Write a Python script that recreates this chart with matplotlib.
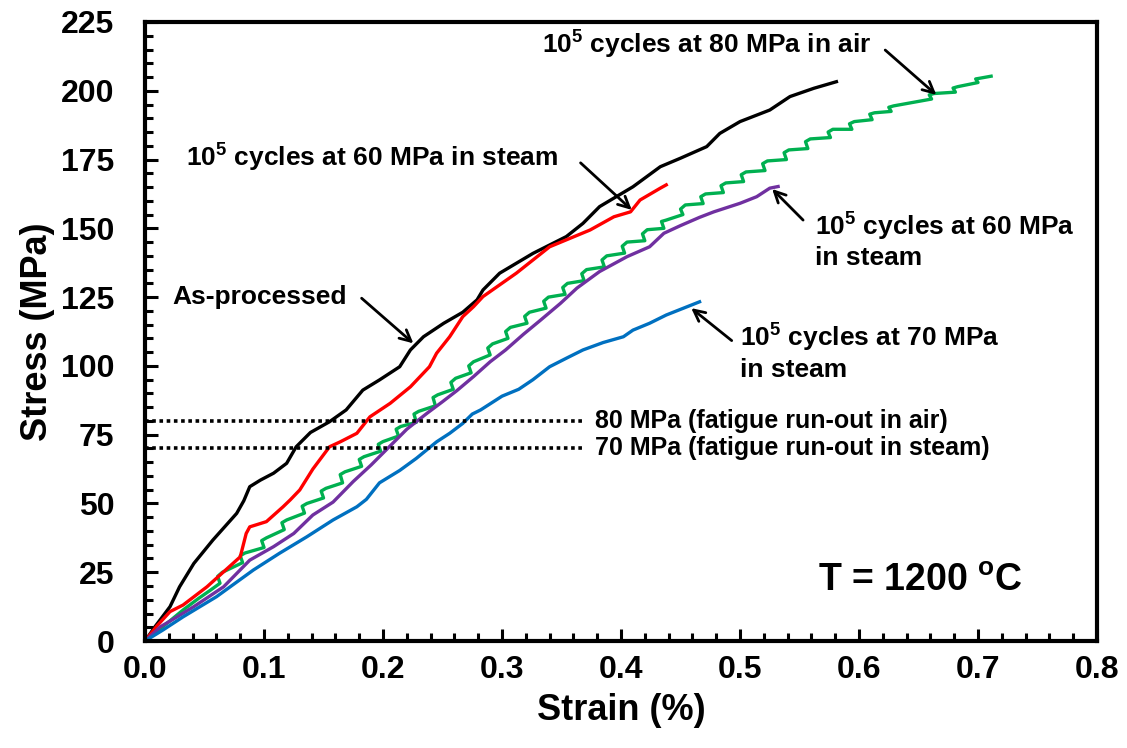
import numpy as np
import matplotlib
matplotlib.use("Agg")
import matplotlib.pyplot as plt
from matplotlib.ticker import MultipleLocator

# As-processed
black_strain = [0.000, 0.008, 0.021, 0.029, 0.041, 0.057, 0.077, 0.083, 0.088, 0.097, 0.108, 0.119,
                0.127, 0.139, 0.155, 0.169, 0.183, 0.197, 0.214, 0.223, 0.234, 0.251, 0.267, 0.279,
                0.284, 0.298, 0.326, 0.354, 0.368, 0.382, 0.410, 0.433, 0.450, 0.472, 0.483, 0.500,
                0.525, 0.542, 0.562, 0.581]
black_stress = [0.0, 5.0, 12.5, 19.7, 28.2, 36.7, 46.4, 51.0, 56.1, 58.5, 61.0, 64.6,
                70.6, 75.8, 79.7, 84.0, 91.2, 94.9, 99.7, 105.8, 110.6, 115.5, 119.5, 124.0,
                127.6, 133.7, 140.9, 147.0, 151.8, 157.9, 165.1, 172.4, 175.5, 179.7, 184.5, 188.8,
                193.0, 197.9, 200.9, 203.3]

# 1e5 cycles at 60 MPa in steam (upper)
red_strain = [0.000, 0.010, 0.021, 0.032, 0.052, 0.080, 0.085, 0.088, 0.102, 0.116, 0.122, 0.130,
              0.141, 0.155, 0.164, 0.178, 0.189, 0.206, 0.223, 0.239, 0.245, 0.256, 0.267, 0.276,
              0.284, 0.312, 0.340, 0.374, 0.394, 0.408, 0.416, 0.433, 0.438]
red_stress = [0.0, 5.5, 10.7, 13.1, 19.7, 30.6, 39.1, 41.5, 43.4, 48.8, 51.3, 54.9,
              62.5, 70.6, 72.4, 75.5, 81.5, 86.4, 92.4, 99.7, 104.6, 110.6, 117.9, 121.5,
              125.2, 133.7, 143.3, 149.4, 154.2, 156.0, 160.3, 164.6, 165.8]

# 1e5 cycles at 80 MPa in air
green_strain = [0.000, 0.010, 0.020, 0.032, 0.045, 0.055,
                0.063, 0.061, 0.065, 0.082, 0.080, 0.084, 0.100, 0.098, 0.102,
                0.117, 0.115, 0.119, 0.134, 0.132, 0.136, 0.150, 0.148, 0.152,
                0.166, 0.164, 0.168, 0.182, 0.180, 0.184, 0.198, 0.196, 0.200,
                0.213, 0.211, 0.215, 0.228, 0.226, 0.230, 0.244, 0.242, 0.246,
                0.259, 0.257, 0.261, 0.274, 0.272, 0.276, 0.290, 0.288, 0.292,
                0.305, 0.303, 0.307, 0.321, 0.319, 0.323, 0.337, 0.335, 0.339,
                0.353, 0.351, 0.355, 0.369, 0.367, 0.371, 0.386, 0.384, 0.388,
                0.403, 0.401, 0.405, 0.420, 0.418, 0.422, 0.436, 0.434, 0.438,
                0.452, 0.450, 0.454, 0.469, 0.467, 0.471, 0.486, 0.484, 0.488,
                0.503, 0.501, 0.505, 0.521, 0.519, 0.523, 0.539, 0.537, 0.541,
                0.557, 0.555, 0.559, 0.576, 0.574, 0.578, 0.594, 0.592, 0.596,
                0.611, 0.609, 0.613, 0.627, 0.625, 0.629, 0.661, 0.659, 0.663,
                0.681, 0.679, 0.683, 0.700, 0.698, 0.702, 0.711]
green_stress = [0.0, 3.5, 7.0, 11.3, 15.5, 18.5,
                21.0, 23.5, 25.0, 28.5, 31.0, 32.0, 34.0, 36.5, 37.5,
                40.5, 43.0, 44.0, 46.5, 49.0, 50.0, 52.0, 54.5, 55.5,
                57.5, 60.5, 61.5, 63.5, 66.0, 67.0, 69.0, 71.5, 72.5,
                74.5, 77.0, 78.0, 79.5, 82.5, 83.5, 85.5, 88.5, 89.5,
                91.5, 94.0, 95.5, 97.5, 100.0, 101.5, 104.0, 106.5, 108.0,
                110.0, 112.5, 114.0, 115.5, 118.0, 119.5, 121.0, 123.5, 125.0,
                126.0, 128.5, 130.0, 131.0, 133.5, 135.0, 136.0, 138.5, 140.0,
                141.0, 143.5, 145.0, 145.5, 148.0, 149.5, 150.0, 152.5, 153.0,
                155.0, 157.0, 158.5, 159.0, 161.5, 162.5, 163.0, 165.5, 166.5,
                167.0, 169.5, 170.5, 171.0, 173.5, 174.5, 175.0, 177.5, 178.5,
                179.0, 181.5, 182.5, 183.0, 185.0, 186.0, 186.0, 188.0, 188.8,
                189.5, 191.5, 192.0, 192.5, 194.0, 194.5, 197.0, 198.5, 199.0,
                199.5, 201.0, 201.5, 203.0, 204.3, 204.6, 205.3]

# 1e5 cycles at 60 MPa in steam (lower)
purple_strain = [0.000, 0.013, 0.027, 0.041, 0.066, 0.088, 0.108, 0.125, 0.141, 0.158, 0.175, 0.190,
                 0.205, 0.220, 0.237, 0.250, 0.262, 0.276, 0.290, 0.303, 0.318, 0.332, 0.349, 0.363,
                 0.382, 0.405, 0.424, 0.436, 0.450, 0.466, 0.478, 0.500, 0.514, 0.525, 0.532]
purple_stress = [0.0, 5.2, 8.8, 12.5, 19.7, 29.4, 34.3, 39.1, 45.8, 50.5, 58.0, 64.0,
                 70.5, 77.0, 82.8, 87.0, 91.0, 96.1, 101.5, 105.8, 111.5, 116.5, 122.7, 128.3,
                 134.3, 139.7, 143.3, 148.2, 151.0, 154.0, 156.0, 159.1, 161.5, 164.6, 165.2]

# 1e5 cycles at 70 MPa in steam
blue_strain = [0.000, 0.015, 0.032, 0.060, 0.091, 0.113, 0.136, 0.158, 0.178, 0.186, 0.197, 0.214,
               0.228, 0.245, 0.256, 0.267, 0.275, 0.282, 0.300, 0.314, 0.326, 0.340, 0.355, 0.368,
               0.385, 0.402, 0.410, 0.424, 0.438, 0.452, 0.466]
blue_stress = [0.0, 4.0, 8.8, 16.1, 25.8, 31.9, 37.9, 44.0, 48.8, 51.5, 57.5, 62.0,
               66.4, 72.4, 75.5, 79.1, 82.5, 84.0, 89.0, 91.5, 95.0, 99.7, 103.0, 105.8,
               108.5, 110.6, 113.0, 115.5, 118.5, 120.9, 123.3]

runout_levels = [80, 70]
runout_labels = ["80 MPa (fatigue run-out in air)", "70 MPa (fatigue run-out in steam)"]


def setup_fonts():
    plt.rcParams['font.family'] = ['Liberation Sans', 'DejaVu Sans']
    plt.rcParams['font.weight'] = 'bold'
    plt.rcParams['axes.labelweight'] = 'bold'
    plt.rcParams['mathtext.fontset'] = 'custom'
    plt.rcParams['mathtext.default'] = 'regular'


def arrow(ax, tip, tail):
    ax.annotate("", xy=tip, xytext=tail,
                arrowprops=dict(arrowstyle="->,head_length=0.8,head_width=0.4",
                                color="black", lw=2.0, shrinkA=0, shrinkB=0))


def main():
    setup_fonts()
    fig = plt.figure(figsize=(11.27, 7.48), dpi=100)
    ax = fig.add_axes([0.1287, 0.1430, 0.8447, 0.8276])

    lw = 2.4
    ax.plot(black_strain, black_stress, color="black", lw=lw)
    ax.plot(green_strain, green_stress, color="#00B050", lw=lw)
    ax.plot(red_strain, red_stress, color="#FF0000", lw=lw)
    ax.plot(purple_strain, purple_stress, color="#7030A0", lw=lw)
    ax.plot(blue_strain, blue_stress, color="#0070C0", lw=lw)

    # run-out levels
    for lev, lab in zip(runout_levels, runout_labels):
        ax.plot([0, 0.368], [lev, lev], color="black", lw=2.6, linestyle=(0, (1, 1)))
        ax.text(0.378, lev, lab, fontsize=18, va="center", ha="left")

    fs = 19
    ax.text(0.334, 216.6, r"10$^5$ cycles at 80 MPa in air", fontsize=fs, va="center")
    arrow(ax, (0.665, 198.5), (0.622, 214.8))
    ax.text(0.034, 175.6, r"10$^5$ cycles at 60 MPa in steam", fontsize=fs, va="center")
    arrow(ax, (0.409, 156.7), (0.366, 173.8))
    ax.text(0.0227, 125.0, "As-processed", fontsize=fs, va="center")
    arrow(ax, (0.2255, 108.2), (0.182, 124.6))
    ax.text(0.563, 150.5, r"10$^5$ cycles at 60 MPa", fontsize=fs, va="center")
    ax.text(0.563, 139.2, "in steam", fontsize=fs, va="center")
    arrow(ax, (0.527, 164.3), (0.553, 153.0))
    ax.text(0.500, 110.0, r"10$^5$ cycles at 70 MPa", fontsize=fs, va="center")
    ax.text(0.500, 98.5, "in steam", fontsize=fs, va="center")
    arrow(ax, (0.459, 121.0), (0.493, 109.2))
    ax.text(0.5655, 21.8, r"T = 1200 $^{o}$C", fontsize=27, va="center")

    ax.set_xlim(0, 0.8)
    ax.set_ylim(0, 225)
    ax.xaxis.set_major_locator(MultipleLocator(0.1))
    ax.xaxis.set_minor_locator(MultipleLocator(0.02))
    ax.yaxis.set_major_locator(MultipleLocator(25))
    ax.yaxis.set_minor_locator(MultipleLocator(5))
    ax.xaxis.set_major_formatter(matplotlib.ticker.FormatStrFormatter("%.1f"))
    ax.tick_params(which="both", direction="in", width=2.2, labelsize=23,
                   top=False, right=False)
    ax.tick_params(axis="x", pad=10)
    ax.tick_params(axis="y", pad=22)
    ax.tick_params(which="major", length=9)
    ax.tick_params(which="minor", length=6)
    for sp in ax.spines.values():
        sp.set_linewidth(3)

    ax.set_xlabel("Strain (%)", fontsize=26, labelpad=6)
    ax.set_ylabel("Stress (MPa)", fontsize=26, labelpad=4)

    fig.savefig("out.png", dpi=100)


if __name__ == "__main__":
    main()
